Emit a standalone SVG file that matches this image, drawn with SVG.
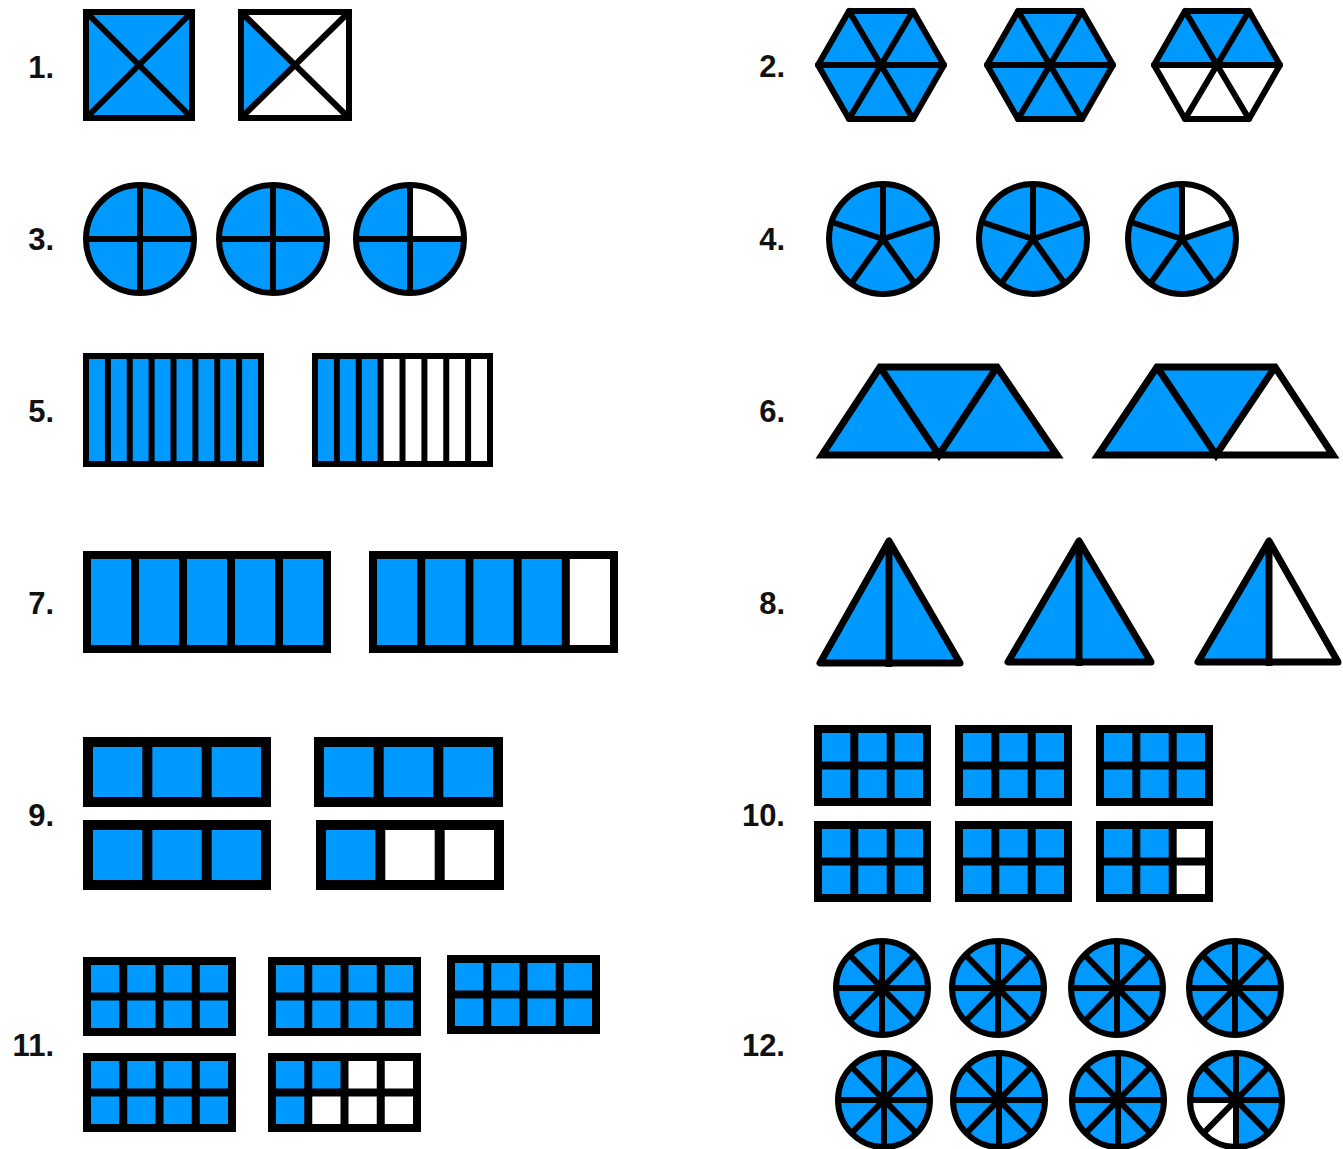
<svg xmlns="http://www.w3.org/2000/svg" xmlns:xlink="http://www.w3.org/1999/xlink" width="1343" height="1149" viewBox="0 0 1343 1149">
<style>
.lbl{font-family:"Liberation Sans",Arial,sans-serif;font-weight:bold;font-size:31px;fill:#111;text-anchor:end}
.b{fill:#0099ff}
.w{fill:#ffffff}
.ln{fill:none;stroke:#000}
.s6{stroke-width:6}
.s7{stroke-width:7}
.s8{stroke-width:8}
.s10{stroke-width:10}
.rj{stroke-linejoin:round;stroke-linecap:round}
</style>
<defs>
<g id="circ4">
<circle r="54" class="b"/>
<path class="ln s6" d="M-54 0H54M0 -54V54"/>
<circle r="54" class="ln s6"/>
</g>
<g id="pent">
<ellipse rx="54" ry="55" class="b"/>
<path class="ln s6" d="M0 0V-55M0 0L51.4 -17M0 0L31.7 44.5M0 0L-31.7 44.5M0 0L-51.4 -17"/>
</g>
<g id="wheel">
<ellipse rx="46" ry="47" class="b"/>
</g>
<path id="spokes8" class="ln s6" d="M-46 0H46M0 -47V47M-32.5 -33.2L32.5 33.2M32.5 -33.2L-32.5 33.2"/>
</defs>
<rect width="1343" height="1149" fill="#fff"/>

<g id="labels">
<text class="lbl" x="54" y="78">1.</text>
<text class="lbl" x="785" y="77">2.</text>
<text class="lbl" x="54" y="250">3.</text>
<text class="lbl" x="785" y="250">4.</text>
<text class="lbl" x="54" y="422">5.</text>
<text class="lbl" x="785" y="422">6.</text>
<text class="lbl" x="54" y="614">7.</text>
<text class="lbl" x="785" y="614">8.</text>
<text class="lbl" x="54" y="826">9.</text>
<text class="lbl" x="785" y="826">10.</text>
<text class="lbl" x="54" y="1056">11.</text>
<text class="lbl" x="785" y="1056">12.</text>
</g>

<!-- 1 -->
<g id="p1a">
<rect x="86" y="12" width="106" height="106" class="b"/>
<path class="ln s6" d="M86 12L192 118M192 12L86 118"/>
<rect x="86" y="12" width="106" height="106" class="ln s6"/>
</g>
<g id="p1b">
<rect x="241" y="12" width="108" height="106" class="w"/>
<polygon points="241,12 295,65 241,118" class="b"/>
<path class="ln s6" d="M241 12L349 118M349 12L241 118"/>
<rect x="241" y="12" width="108" height="106" class="ln s6"/>
</g>

<!-- 2 -->
<g id="p2a">
<polygon points="818,65 849,11 913,11 944,65 913,119 849,119" class="b"/>
<path class="ln s6 rj" d="M818 65H944M849 11L913 119M913 11L849 119"/>
<polygon points="818,65 849,11 913,11 944,65 913,119 849,119" class="ln s6 rj"/>
</g>
<g id="p2b">
<polygon points="987,65 1018,11 1082,11 1113,65 1082,119 1018,119" class="b"/>
<path class="ln s6 rj" d="M987 65H1113M1018 11L1082 119M1082 11L1018 119"/>
<polygon points="987,65 1018,11 1082,11 1113,65 1082,119 1018,119" class="ln s6 rj"/>
</g>
<g id="p2c">
<polygon points="1154,65 1185,11 1249,11 1280,65 1249,119 1185,119" class="w"/>
<polygon points="1154,65 1185,11 1249,11 1280,65" class="b"/>
<path class="ln s6 rj" d="M1154 65H1280M1185 11L1249 119M1249 11L1185 119"/>
<polygon points="1154,65 1185,11 1249,11 1280,65 1249,119 1185,119" class="ln s6 rj"/>
</g>

<!-- 3 -->
<g id="p3a"><use xlink:href="#circ4" href="#circ4" transform="translate(140,239)"/></g>
<g id="p3b"><use xlink:href="#circ4" href="#circ4" transform="translate(273,239)"/></g>
<g id="p3c">
<circle cx="410" cy="239" r="54" class="b"/>
<path d="M410 239L410 185A54 54 0 0 1 464 239Z" class="w"/>
<path class="ln s6" d="M356 239H464M410 185V293"/>
<circle cx="410" cy="239" r="54" class="ln s6"/>
</g>

<!-- 4 -->
<g id="p4a"><use xlink:href="#pent" href="#pent" transform="translate(883,239)"/><ellipse cx="883" cy="239" rx="54" ry="55" class="ln s6"/></g>
<g id="p4b"><use xlink:href="#pent" href="#pent" transform="translate(1033,239)"/><ellipse cx="1033" cy="239" rx="54" ry="55" class="ln s6"/></g>
<g id="p4c">
<ellipse cx="1182" cy="239" rx="54" ry="55" class="b"/>
<path d="M1182 239L1182 184A54 55 0 0 1 1233.4 222Z" class="w"/>
<path class="ln s6" d="M1182 239V184M1182 239L1233.4 222M1182 239L1213.7 283.5M1182 239L1150.3 283.5M1182 239L1130.6 222"/>
<ellipse cx="1182" cy="239" rx="54" ry="55" class="ln s6"/>
</g>

<!-- 5 -->
<g id="p5a">
<rect x="86" y="356" width="175" height="108" class="b"/>
<path class="ln s6" d="M107.9 356V464M129.75 356V464M151.6 356V464M173.5 356V464M195.4 356V464M217.25 356V464M239.1 356V464"/>
<rect x="86" y="356" width="175" height="108" class="ln s6"/>
</g>
<g id="p5b">
<rect x="315" y="356" width="175" height="108" class="w"/>
<rect x="315" y="356" width="65.6" height="108" class="b"/>
<path class="ln s6" d="M336.9 356V464M358.75 356V464M380.6 356V464M402.5 356V464M424.4 356V464M446.25 356V464M468.1 356V464"/>
<rect x="315" y="356" width="175" height="108" class="ln s6"/>
</g>

<!-- 6 -->
<g id="p6a">
<polygon points="822,455 880,367 997,367 1057,455" class="b"/>
<path class="ln s7" d="M880 367L939 455L997 367"/>
<polygon points="822,455 880,367 997,367 1057,455" class="ln s7"/>
</g>
<g id="p6b">
<polygon points="1098,455 1157,367 1275,367 1333,455" class="w"/>
<polygon points="1098,455 1157,367 1275,367 1216,455" class="b"/>
<path class="ln s7" d="M1157 367L1216 455L1275 367"/>
<polygon points="1098,455 1157,367 1275,367 1333,455" class="ln s7"/>
</g>

<!-- 7 -->
<g id="p7a">
<rect x="87" y="555" width="240" height="94" class="b"/>
<path class="ln s8" d="M135 555V649M183 555V649M231 555V649M279 555V649"/>
<rect x="87" y="555" width="240" height="94" class="ln s8"/>
</g>
<g id="p7b">
<rect x="373" y="555" width="241" height="94" class="b"/>
<rect x="565.8" y="555" width="48.2" height="94" class="w"/>
<path class="ln s8" d="M421.2 555V649M469.4 555V649M517.6 555V649M565.8 555V649"/>
<rect x="373" y="555" width="241" height="94" class="ln s8"/>
</g>

<!-- 8 -->
<g id="p8a">
<polygon points="889,541 820,663 960,663" class="b"/>
<path class="ln s7" d="M889 541V667"/>
<polygon points="889,541 820,663 960,663" class="ln s7" stroke-linejoin="round"/>
</g>
<g id="p8b">
<polygon points="1079,541 1008,662 1151,662" class="b"/>
<path class="ln s7" d="M1079 541V666"/>
<polygon points="1079,541 1008,662 1151,662" class="ln s7" stroke-linejoin="round"/>
</g>
<g id="p8c">
<polygon points="1269,541 1198,662 1338,662" class="w"/>
<polygon points="1269,541 1198,662 1269,662" class="b"/>
<path class="ln s7" d="M1269 541V666"/>
<polygon points="1269,541 1198,662 1338,662" class="ln s7" stroke-linejoin="round"/>
</g>

<!-- 9 -->
<g id="p9a">
<rect x="88" y="742" width="178" height="60" class="b"/>
<path class="ln s10" d="M147.3 742V802M206.7 742V802"/>
<rect x="88" y="742" width="178" height="60" class="ln s10"/>
</g>
<g id="p9b">
<rect x="319" y="742" width="179" height="60" class="b"/>
<path class="ln s10" d="M378.7 742V802M438.3 742V802"/>
<rect x="319" y="742" width="179" height="60" class="ln s10"/>
</g>
<g id="p9c">
<rect x="88" y="825" width="178" height="60" class="b"/>
<path class="ln s10" d="M147.3 825V885M206.7 825V885"/>
<rect x="88" y="825" width="178" height="60" class="ln s10"/>
</g>
<g id="p9d">
<rect x="321" y="825" width="178" height="60" class="w"/>
<rect x="321" y="825" width="59.3" height="60" class="b"/>
<path class="ln s10" d="M380.3 825V885M439.7 825V885"/>
<rect x="321" y="825" width="178" height="60" class="ln s10"/>
</g>

<!-- 10 -->
<g id="p10a">
<rect x="818" y="729" width="109" height="73" class="b"/>
<path class="ln s8" d="M854.3 729V802M890.7 729V802M818 765.5H927"/>
<rect x="818" y="729" width="109" height="73" class="ln s8"/>
</g>
<g id="p10b">
<rect x="959" y="729" width="109" height="73" class="b"/>
<path class="ln s8" d="M995.3 729V802M1031.7 729V802M959 765.5H1068"/>
<rect x="959" y="729" width="109" height="73" class="ln s8"/>
</g>
<g id="p10c">
<rect x="1100" y="729" width="109" height="73" class="b"/>
<path class="ln s8" d="M1136.3 729V802M1172.7 729V802M1100 765.5H1209"/>
<rect x="1100" y="729" width="109" height="73" class="ln s8"/>
</g>
<g id="p10d">
<rect x="818" y="825" width="109" height="73" class="b"/>
<path class="ln s8" d="M854.3 825V898M890.7 825V898M818 861.5H927"/>
<rect x="818" y="825" width="109" height="73" class="ln s8"/>
</g>
<g id="p10e">
<rect x="959" y="825" width="109" height="73" class="b"/>
<path class="ln s8" d="M995.3 825V898M1031.7 825V898M959 861.5H1068"/>
<rect x="959" y="825" width="109" height="73" class="ln s8"/>
</g>
<g id="p10f">
<rect x="1100" y="825" width="109" height="73" class="b"/>
<rect x="1172.7" y="825" width="36.3" height="73" class="w"/>
<path class="ln s8" d="M1136.3 825V898M1172.7 825V898M1100 861.5H1209"/>
<rect x="1100" y="825" width="109" height="73" class="ln s8"/>
</g>

<!-- 11 -->
<g id="p11a">
<rect x="87" y="961" width="145" height="71" class="b"/>
<path class="ln s8" d="M123.25 961V1032M159.5 961V1032M195.75 961V1032M87 996.5H232"/>
<rect x="87" y="961" width="145" height="71" class="ln s8"/>
</g>
<g id="p11b">
<rect x="272" y="961" width="145" height="71" class="b"/>
<path class="ln s8" d="M308.25 961V1032M344.5 961V1032M380.75 961V1032M272 996.5H417"/>
<rect x="272" y="961" width="145" height="71" class="ln s8"/>
</g>
<g id="p11c">
<rect x="451" y="959" width="145" height="71" class="b"/>
<path class="ln s8" d="M487.25 959V1030M523.5 959V1030M559.75 959V1030M451 994.5H596"/>
<rect x="451" y="959" width="145" height="71" class="ln s8"/>
</g>
<g id="p11d">
<rect x="87" y="1057" width="145" height="71" class="b"/>
<path class="ln s8" d="M123.25 1057V1128M159.5 1057V1128M195.75 1057V1128M87 1092.5H232"/>
<rect x="87" y="1057" width="145" height="71" class="ln s8"/>
</g>
<g id="p11e">
<rect x="272" y="1057" width="145" height="71" class="b"/>
<rect x="344.5" y="1057" width="72.5" height="35.5" class="w"/>
<rect x="308.25" y="1092.5" width="108.75" height="35.5" class="w"/>
<path class="ln s8" d="M308.25 1057V1128M344.5 1057V1128M380.75 1057V1128M272 1092.5H417"/>
<rect x="272" y="1057" width="145" height="71" class="ln s8"/>
</g>

<!-- 12 -->
<g id="p12a" transform="translate(882,988)"><use xlink:href="#wheel" href="#wheel"/><use xlink:href="#spokes8" href="#spokes8"/><ellipse rx="46" ry="47" class="ln s6"/></g>
<g id="p12b" transform="translate(998,988)"><use xlink:href="#wheel" href="#wheel"/><use xlink:href="#spokes8" href="#spokes8"/><ellipse rx="46" ry="47" class="ln s6"/></g>
<g id="p12c" transform="translate(1117,988)"><use xlink:href="#wheel" href="#wheel"/><use xlink:href="#spokes8" href="#spokes8"/><ellipse rx="46" ry="47" class="ln s6"/></g>
<g id="p12d" transform="translate(1235,988)"><use xlink:href="#wheel" href="#wheel"/><use xlink:href="#spokes8" href="#spokes8"/><ellipse rx="46" ry="47" class="ln s6"/></g>
<g id="p12e" transform="translate(884,1100)"><use xlink:href="#wheel" href="#wheel"/><use xlink:href="#spokes8" href="#spokes8"/><ellipse rx="46" ry="47" class="ln s6"/></g>
<g id="p12f" transform="translate(999,1100)"><use xlink:href="#wheel" href="#wheel"/><use xlink:href="#spokes8" href="#spokes8"/><ellipse rx="46" ry="47" class="ln s6"/></g>
<g id="p12g" transform="translate(1118,1100)"><use xlink:href="#wheel" href="#wheel"/><use xlink:href="#spokes8" href="#spokes8"/><ellipse rx="46" ry="47" class="ln s6"/></g>
<g id="p12h" transform="translate(1236,1100)">
<use xlink:href="#wheel" href="#wheel"/>
<path d="M0 0L0 47A46 47 0 0 1 -46 0Z" class="w"/>
<use xlink:href="#spokes8" href="#spokes8"/>
<ellipse rx="46" ry="47" class="ln s6"/>
</g>
</svg>
